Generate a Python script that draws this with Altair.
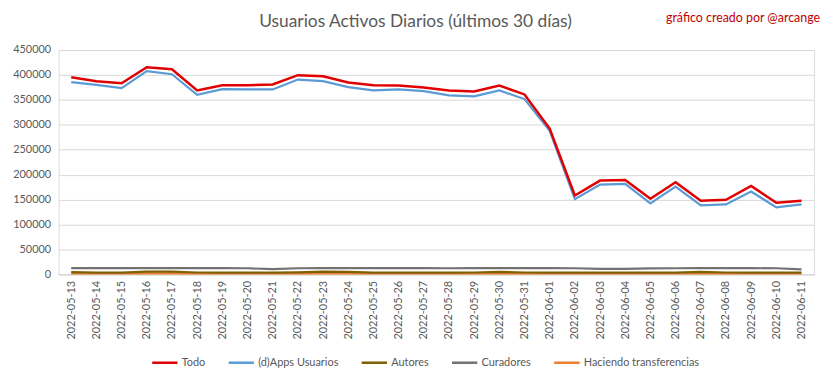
import altair as alt
import pandas as pd

dates = ["2022-05-13", "2022-05-14", "2022-05-15", "2022-05-16", "2022-05-17",
         "2022-05-18", "2022-05-19", "2022-05-20", "2022-05-21", "2022-05-22",
         "2022-05-23", "2022-05-24", "2022-05-25", "2022-05-26", "2022-05-27",
         "2022-05-28", "2022-05-29", "2022-05-30", "2022-05-31", "2022-06-01",
         "2022-06-02", "2022-06-03", "2022-06-04", "2022-06-05", "2022-06-06",
         "2022-06-07", "2022-06-08", "2022-06-09", "2022-06-10", "2022-06-11"]

todo = [395500, 387500, 383500, 415400, 411400, 368900, 379500, 379500, 380900, 399500,
        397500, 384900, 379500, 378900, 374900, 368900, 366900, 378900, 360900, 292500,
        158200, 188100, 189400, 151600, 184800, 147600, 149600, 177500, 143600, 147600]
dapps = [385500, 380200, 373600, 407500, 401500, 360300, 371600, 371000, 371000, 390800,
         387500, 375500, 368900, 371000, 367600, 358900, 357000, 368900, 351600, 287800,
         150900, 180100, 181500, 142200, 176100, 138300, 140300, 166200, 134300, 140300]
autores = [4500, 3500, 3500, 5500, 5500, 3800, 3500, 3500, 3500, 4000,
           5500, 5200, 3600, 3500, 3500, 3500, 3800, 5000, 3800, 3500,
           3400, 3400, 3500, 3500, 3600, 5000, 3800, 3600, 3500, 3400]
curadores = [12500, 12600, 12500, 12700, 12700, 12400, 12500, 12300, 10500, 12300,
             12600, 12600, 12500, 12400, 12500, 12300, 12400, 12600, 12500, 12400,
             12300, 11000, 11000, 12000, 12300, 12400, 12500, 12400, 12300, 10000]
transferencias = [2000, 1900, 1900, 2100, 2100, 1900, 1900, 1900, 1900, 2000,
                  2100, 2100, 1900, 1900, 1900, 1900, 1900, 2000, 1900, 1800,
                  1800, 1800, 1800, 1800, 1900, 2000, 1900, 1900, 1800, 1800]

series_names = ["Todo", "(d)Apps Usuarios", "Autores", "Curadores", "Haciendo transferencias"]
series_colors = ["#E00000", "#5B9BD5", "#7F6000", "#767171", "#ED7D31"]
series_values = [todo, dapps, autores, curadores, transferencias]
draw_order = ["Haciendo transferencias", "Autores", "Curadores", "(d)Apps Usuarios", "Todo"]
widths = {"Todo": 2.5, "(d)Apps Usuarios": 2.2, "Autores": 2.2, "Curadores": 2.2,
          "Haciendo transferencias": 2.2}

rows = []
for name, vals in zip(series_names, series_values):
    for d, v in zip(dates, vals):
        rows.append({"fecha": d, "serie": name, "valor": v})
df = pd.DataFrame(rows)

FONT = "Lato"
GRAY = "#595959"

x_enc = alt.X("fecha:N", sort=dates, title=None,
              scale=alt.Scale(paddingOuter=0.5, paddingInner=0),
              axis=alt.Axis(labelAngle=-90, labelFontSize=11, labelColor=GRAY,
                            labelFont=FONT, ticks=False, domainColor="#D9D9D9",
                            grid=False, labelPadding=6))
y_enc = alt.Y("valor:Q", title=None,
              scale=alt.Scale(domain=[0, 450000], nice=False),
              axis=alt.Axis(values=list(range(0, 450001, 50000)), format="d",
                            labelFontSize=11, labelColor=GRAY, labelFont=FONT,
                            ticks=False, domain=False, gridColor="#D9D9D9",
                            labelPadding=8))
color_enc = alt.Color("serie:N",
                      scale=alt.Scale(domain=series_names, range=series_colors),
                      legend=alt.Legend(orient="none", legendX=93, legendY=301,
                                        direction="horizontal",
                                        title=None, symbolType="stroke",
                                        symbolStrokeWidth=2.5, symbolSize=650,
                                        labelOffset=3,
                                        labelFontSize=11, labelColor=GRAY,
                                        labelFont=FONT, columnPadding=18,
                                        labelLimit=200))

base = alt.Chart(df)
layers = []
for name in draw_order:
    layers.append(
        base.transform_filter(alt.datum.serie == name)
        .mark_line(strokeWidth=widths[name])
        .encode(x=x_enc, y=y_enc, color=color_enc)
    )

credit = alt.Chart(pd.DataFrame({"t": ["gráfico creado por @arcange"]})).mark_text(
    align="right", baseline="middle", fontSize=12.5, font=FONT, color="#C00000"
).encode(x=alt.value(767), y=alt.value(-32), text="t:N")

chart = alt.layer(*layers, credit).properties(
    width=761, height=226,
    title=alt.TitleParams("Usuarios Activos Diarios (últimos 30 días)",
                          fontSize=17.5, font=FONT, fontWeight="normal",
                          color=GRAY, anchor="middle", offset=-18, dx=-21),
    padding={"left": 4, "top": 3, "right": 5, "bottom": 2},
).configure_view(stroke=None).configure(background="white")

chart.save("out.html", embed_options={"renderer": "svg", "actions": False})
